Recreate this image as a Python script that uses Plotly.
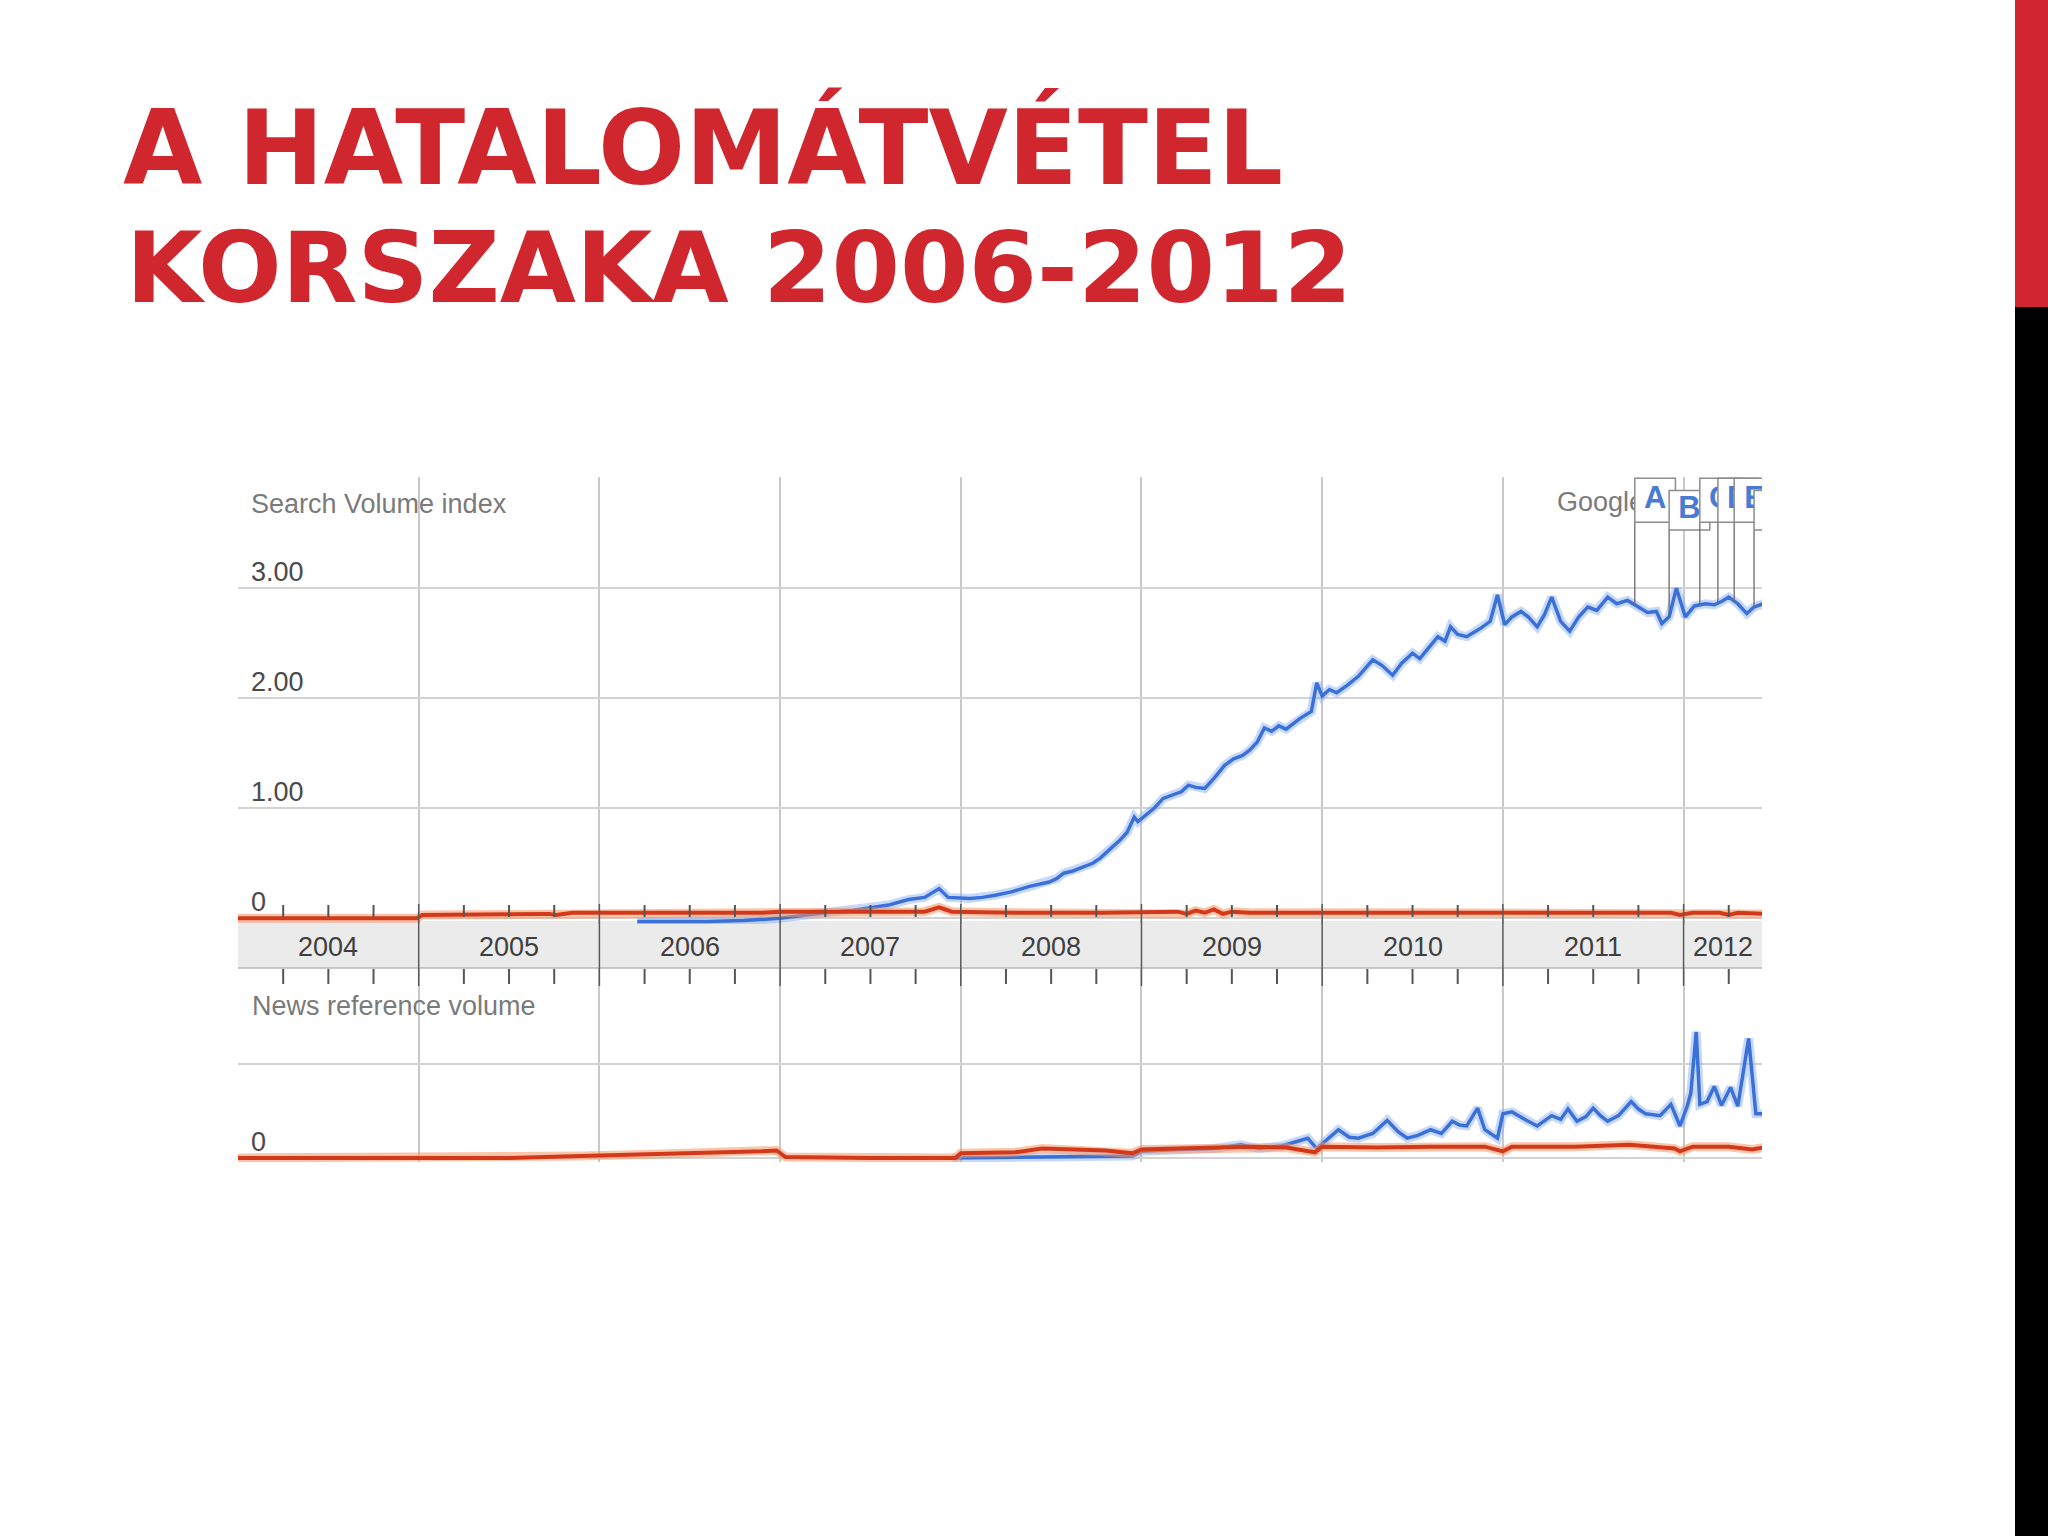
import numpy as np
import plotly.graph_objects as go

# ---------------- data ----------------
top_blue_x = [2006.21, 2006.40, 2006.60, 2006.80, 2007.00, 2007.10, 2007.25, 2007.40, 2007.49, 2007.60,
              2007.71, 2007.80, 2007.88, 2007.93, 2008.05, 2008.12, 2008.19, 2008.28, 2008.38, 2008.44,
              2008.49, 2008.53, 2008.57, 2008.62, 2008.68, 2008.73, 2008.77, 2008.82, 2008.85, 2008.88,
              2008.92, 2008.96, 2008.98, 2009.03, 2009.07, 2009.12, 2009.17, 2009.22, 2009.26, 2009.30,
              2009.35, 2009.40, 2009.46, 2009.51, 2009.56, 2009.60, 2009.64, 2009.68, 2009.72, 2009.76,
              2009.80, 2009.84, 2009.88, 2009.94, 2009.97, 2010.00, 2010.04, 2010.08, 2010.14, 2010.20,
              2010.24, 2010.28, 2010.33, 2010.39, 2010.44, 2010.50, 2010.54, 2010.58, 2010.64, 2010.68,
              2010.71, 2010.75, 2010.80, 2010.84, 2010.88, 2010.93, 2010.97, 2011.01, 2011.05, 2011.10,
              2011.14, 2011.19, 2011.23, 2011.27, 2011.32, 2011.37, 2011.42, 2011.47, 2011.52, 2011.58,
              2011.63, 2011.69, 2011.75, 2011.80, 2011.85, 2011.88, 2011.92, 2011.96, 2012.01, 2012.06,
              2012.12, 2012.17, 2012.21, 2012.25, 2012.30, 2012.35, 2012.39, 2012.44]
top_blue_y = [-0.03, -0.03, -0.03, -0.02, 0.00, 0.02, 0.05, 0.07, 0.09, 0.12,
              0.17, 0.19, 0.27, 0.19, 0.18, 0.19, 0.21, 0.24, 0.29, 0.31,
              0.33, 0.36, 0.41, 0.43, 0.47, 0.50, 0.545, 0.62, 0.66, 0.71,
              0.78, 0.92, 0.88, 0.95, 1.00, 1.09, 1.12, 1.15, 1.21, 1.19,
              1.18, 1.27, 1.39, 1.45, 1.48, 1.53, 1.60, 1.73, 1.70, 1.75,
              1.72, 1.77, 1.82, 1.88, 2.14, 2.02, 2.08, 2.05, 2.12, 2.20,
              2.28, 2.35, 2.30, 2.21, 2.32, 2.41, 2.36, 2.44, 2.56, 2.52,
              2.65, 2.58, 2.56, 2.60, 2.64, 2.70, 2.94, 2.67, 2.74, 2.79,
              2.74, 2.65, 2.76, 2.92, 2.70, 2.61, 2.74, 2.83, 2.80, 2.92,
              2.86, 2.89, 2.83, 2.78, 2.79, 2.68, 2.74, 3.00, 2.74, 2.84,
              2.86, 2.85, 2.88, 2.92, 2.86, 2.77, 2.83, 2.86]

top_red_x = [2004.00, 2004.50, 2004.99, 2005.02, 2005.40, 2005.72, 2005.76, 2005.80, 2005.85, 2006.30,
             2006.90, 2007.00, 2007.40, 2007.80, 2007.88, 2007.95, 2008.30, 2008.80, 2009.20, 2009.25,
             2009.30, 2009.35, 2009.40, 2009.45, 2009.50, 2009.60, 2010.50, 2011.50, 2011.93, 2011.98,
             2012.05, 2012.20, 2012.25, 2012.30, 2012.44]
top_red_y = [0.00, 0.00, 0.00, 0.03, 0.035, 0.04, 0.03, 0.04, 0.05, 0.05,
             0.05, 0.06, 0.06, 0.06, 0.10, 0.06, 0.05, 0.05, 0.06, 0.04,
             0.07, 0.05, 0.08, 0.04, 0.06, 0.05, 0.05, 0.05, 0.05, 0.03,
             0.05, 0.05, 0.03, 0.05, 0.04]

news_blue_x = [2007.95, 2008.40, 2008.70, 2008.95, 2009.00, 2009.20, 2009.40, 2009.55, 2009.65, 2009.78,
               2009.85, 2009.92, 2009.97, 2010.03, 2010.09, 2010.15, 2010.20, 2010.28, 2010.36, 2010.42,
               2010.47, 2010.53, 2010.60, 2010.66, 2010.72, 2010.76, 2010.80, 2010.86, 2010.90, 2010.97,
               2011.00, 2011.05, 2011.09, 2011.13, 2011.19, 2011.23, 2011.27, 2011.32, 2011.36, 2011.41,
               2011.46, 2011.50, 2011.54, 2011.58, 2011.64, 2011.71, 2011.75, 2011.79, 2011.87, 2011.93,
               2011.98, 2012.02, 2012.04, 2012.07, 2012.09, 2012.13, 2012.17, 2012.21, 2012.26, 2012.30,
               2012.36, 2012.40, 2012.44]
news_blue_y = [0.00, 0.01, 0.02, 0.02, 0.07, 0.09, 0.10, 0.14, 0.10, 0.13,
               0.17, 0.21, 0.10, 0.20, 0.30, 0.22, 0.21, 0.26, 0.40, 0.28,
               0.21, 0.24, 0.30, 0.26, 0.39, 0.35, 0.34, 0.53, 0.30, 0.21,
               0.47, 0.49, 0.44, 0.40, 0.34, 0.40, 0.45, 0.41, 0.52, 0.39,
               0.44, 0.53, 0.45, 0.39, 0.45, 0.60, 0.52, 0.47, 0.45, 0.57,
               0.34, 0.55, 0.69, 1.34, 0.57, 0.60, 0.76, 0.56, 0.75, 0.55,
               1.27, 0.47, 0.47]

news_red_x = [2004.00, 2005.50, 2005.90, 2006.30, 2006.60, 2006.90, 2006.98, 2007.03, 2007.50, 2007.97,
              2008.00, 2008.30, 2008.45, 2008.60, 2008.80, 2008.95, 2009.00, 2009.20, 2009.40, 2009.60,
              2009.80, 2009.96, 2010.00, 2010.30, 2010.60, 2010.90, 2011.00, 2011.05, 2011.40, 2011.70,
              2011.95, 2011.98, 2012.05, 2012.25, 2012.38, 2012.44]
news_red_y = [0.00, 0.00, 0.02, 0.04, 0.05, 0.07, 0.08, 0.01, 0.00, 0.00,
              0.05, 0.06, 0.10, 0.09, 0.08, 0.05, 0.09, 0.10, 0.11, 0.12,
              0.11, 0.06, 0.12, 0.11, 0.12, 0.12, 0.07, 0.12, 0.12, 0.14,
              0.10, 0.07, 0.12, 0.12, 0.09, 0.11]

years = [2004, 2005, 2006, 2007, 2008, 2009, 2010, 2011, 2012]
top_tick_vals = [0, 1, 2, 3]
top_tick_text = ["0", "1.00", "2.00", "3.00"]
news_tick_vals = [0, 1]
news_tick_text = ["0", ""]

flag_letters = ["A", "B", "C", "D", "E", "F"]
flag_dates = [2011.73, 2011.92, 2012.09, 2012.19, 2012.28, 2012.39]
flag_levels = [0, 1, 0, 0, 0, 1]

title_lines = ["A HATALOMÁTVÉTEL", "KORSZAKA 2006-2012"]

# ---------------- geometry / style ----------------
W, H = 2048, 1536
X0_PX, X1_PX = 238, 1762
X_RANGE = [2004.0, 2012.434]
TOP_PX = (477, 924)
TOP_RANGE = [-0.052, 4.012]
NEWS_PX = (968, 1162)
NEWS_RANGE = [-0.043, 2.02]
BAND_PX = (921, 968)

BLUE = "#3a70d8"
BLUE_HALO = "rgba(130,170,245,0.45)"
RED = "#d2391a"
RED_HALO = "rgba(248,150,100,0.55)"
TITLE_RED = "#d0272f"
TXT_GREY = "#7a7a7a"
LBL_FONT = "Liberation Sans, Arial, sans-serif"


def px(xp):
    return xp / W


def py(yp):
    return 1 - yp / H


def yr2px(yr):
    return X0_PX + (yr - X_RANGE[0]) * (X1_PX - X0_PX) / (X_RANGE[1] - X_RANGE[0])


def top_val2px(v):
    return TOP_PX[1] - (v - TOP_RANGE[0]) * (TOP_PX[1] - TOP_PX[0]) / (TOP_RANGE[1] - TOP_RANGE[0])


def news_val2px(v):
    return NEWS_PX[1] - (v - NEWS_RANGE[0]) * (NEWS_PX[1] - NEWS_PX[0]) / (NEWS_RANGE[1] - NEWS_RANGE[0])


fig = go.Figure()


def add_line(x, y, xa, ya, color, halo, width, halo_w):
    fig.add_trace(go.Scatter(x=x, y=y, xaxis=xa, yaxis=ya, mode="lines",
                             line=dict(color=halo, width=halo_w), hoverinfo="skip", showlegend=False))
    fig.add_trace(go.Scatter(x=x, y=y, xaxis=xa, yaxis=ya, mode="lines",
                             line=dict(color=color, width=width), hoverinfo="skip", showlegend=False))


# search volume chart
add_line(top_blue_x, top_blue_y, "x", "y", BLUE, BLUE_HALO, 3.5, 9)
add_line(top_red_x, top_red_y, "x", "y", RED, RED_HALO, 4, 9)
# news volume chart
add_line(news_blue_x, news_blue_y, "x2", "y2", BLUE, BLUE_HALO, 3.5, 9)
add_line(news_red_x, news_red_y, "x2", "y2", RED, RED_HALO, 4, 9)

# "Google" caption (partly hidden by the flags)
google_x = X_RANGE[0] + (1557 - X0_PX) / (X1_PX - X0_PX) * (X_RANGE[1] - X_RANGE[0])
google_y = TOP_RANGE[0] + (TOP_PX[1] - 504) / (TOP_PX[1] - TOP_PX[0]) * (TOP_RANGE[1] - TOP_RANGE[0])
fig.add_trace(go.Scatter(x=[google_x], y=[google_y], mode="text", text=["Google"],
                         textposition="middle right", xaxis="x", yaxis="y",
                         textfont=dict(family=LBL_FONT, size=27, color=TXT_GREY),
                         hoverinfo="skip", showlegend=False))

# news flags A..F
box_w = 0.225
levels = {0: (3.60, 4.00), 1: (3.53, 3.89)}
for letter, d, lv in zip(flag_letters, flag_dates, flag_levels):
    y0, y1 = levels[lv]
    curve_v = float(np.interp(d, top_blue_x, top_blue_y))
    fig.add_trace(go.Scatter(x=[d, d], y=[y0, curve_v], mode="lines", xaxis="x", yaxis="y",
                             line=dict(color="#6a6a6a", width=1.3), hoverinfo="skip", showlegend=False))
    fig.add_trace(go.Scatter(x=[d, d + box_w, d + box_w, d, d], y=[y0, y0, y1, y1, y0],
                             mode="lines", fill="toself", fillcolor="white", xaxis="x", yaxis="y",
                             line=dict(color="#8c8c8c", width=1.5), hoverinfo="skip", showlegend=False))
    fig.add_trace(go.Scatter(x=[d + box_w / 2], y=[(y0 + y1) / 2], mode="text", text=[letter],
                             textposition="middle center", xaxis="x", yaxis="y",
                             textfont=dict(family=LBL_FONT, size=31, color="#4a7bd4", weight=700),
                             hoverinfo="skip", showlegend=False))

shapes = []
# slide right bar
shapes.append(dict(type="rect", xref="paper", yref="paper", x0=px(2015), x1=1, y0=py(307), y1=1,
                   fillcolor="#d1262f", line=dict(width=0), layer="above"))
shapes.append(dict(type="rect", xref="paper", yref="paper", x0=px(2015), x1=1, y0=0, y1=py(307),
                   fillcolor="#000000", line=dict(width=0), layer="above"))
# date band
shapes.append(dict(type="rect", xref="paper", yref="paper", x0=px(X0_PX), x1=px(X1_PX),
                   y0=py(BAND_PX[1]), y1=py(BAND_PX[0]), fillcolor="#ebebeb", line=dict(width=0), layer="below"))
shapes.append(dict(type="line", xref="paper", yref="paper", x0=px(X0_PX), x1=px(X1_PX),
                   y0=py(BAND_PX[1]), y1=py(BAND_PX[1]), line=dict(color="#b8b8b8", width=1.5)))
# year separators and quarter ticks
for yv in years:
    xp = yr2px(yv)
    if yv > years[0]:
        shapes.append(dict(type="line", xref="paper", yref="paper", x0=px(xp), x1=px(xp),
                           y0=py(986), y1=py(904), line=dict(color="#5a5a5a", width=1.5)))
    for q in (0.25, 0.5, 0.75):
        if yv + q > X_RANGE[1]:
            continue
        xq = yr2px(yv + q)
        shapes.append(dict(type="line", xref="paper", yref="paper", x0=px(xq), x1=px(xq),
                           y0=py(917), y1=py(905), line=dict(color="#555555", width=2)))
        shapes.append(dict(type="line", xref="paper", yref="paper", x0=px(xq), x1=px(xq),
                           y0=py(984), y1=py(969), line=dict(color="#555555", width=2)))

annotations = []
# title
annotations.append(dict(text=title_lines[0], x=px(121), y=py(147), xref="paper", yref="paper",
                        xanchor="left", yanchor="middle", showarrow=False,
                        font=dict(family="DejaVu Sans", size=102.5, color=TITLE_RED, weight=700)))
annotations.append(dict(text=title_lines[1], x=px(124), y=py(268), xref="paper", yref="paper",
                        xanchor="left", yanchor="middle", showarrow=False,
                        font=dict(family="DejaVu Sans", size=98.5, color=TITLE_RED, weight=700)))
# year labels
for yv in years:
    c = (yv + min(yv + 1, X_RANGE[1])) / 2
    annotations.append(dict(text=str(yv), x=px(yr2px(c)), y=py(947), xref="paper", yref="paper",
                            xanchor="center", yanchor="middle", showarrow=False,
                            font=dict(family=LBL_FONT, size=27, color="#3f3f3f")))
# axis captions
annotations.append(dict(text="Search Volume index", x=px(249), y=py(504), xref="paper", yref="paper",
                        xanchor="left", yanchor="middle", showarrow=False,
                        font=dict(family=LBL_FONT, size=27, color=TXT_GREY)))
annotations.append(dict(text="News reference volume", x=px(250), y=py(1006), xref="paper", yref="paper",
                        xanchor="left", yanchor="middle", showarrow=False,
                        font=dict(family=LBL_FONT, size=27, color=TXT_GREY)))
for v, t in zip(top_tick_vals, top_tick_text):
    annotations.append(dict(text=t, x=px(249), y=py(top_val2px(v) - 16), xref="paper", yref="paper",
                            xanchor="left", yanchor="middle", showarrow=False,
                            font=dict(family=LBL_FONT, size=27, color="#4a4a4a")))
for v, t in zip(news_tick_vals, news_tick_text):
    if t:
        annotations.append(dict(text=t, x=px(249), y=py(news_val2px(v) - 16), xref="paper", yref="paper",
                                xanchor="left", yanchor="middle", showarrow=False,
                                font=dict(family=LBL_FONT, size=27, color="#4a4a4a")))

axis_common = dict(showline=False, zeroline=False, showticklabels=False, ticks="")
fig.update_layout(
    width=W, height=H, margin=dict(l=0, r=0, t=0, b=0),
    paper_bgcolor="#ffffff", plot_bgcolor="rgba(0,0,0,0)",
    showlegend=False,
    xaxis=dict(domain=[px(X0_PX), px(X1_PX)], range=X_RANGE, anchor="y",
               showgrid=True, gridcolor="#c9c9c9", gridwidth=1.5, tick0=2004, dtick=1, **axis_common),
    xaxis2=dict(domain=[px(X0_PX), px(X1_PX)], range=X_RANGE, anchor="y2", matches="x",
                showgrid=True, gridcolor="#c9c9c9", gridwidth=1.5, tick0=2004, dtick=1, **axis_common),
    yaxis=dict(domain=[py(TOP_PX[1]), py(TOP_PX[0])], range=TOP_RANGE, anchor="x",
               tickvals=top_tick_vals, showgrid=True, gridcolor="#d3d3d3", gridwidth=2, **axis_common),
    yaxis2=dict(domain=[py(NEWS_PX[1]), py(NEWS_PX[0])], range=NEWS_RANGE, anchor="x2",
                tickvals=news_tick_vals, showgrid=True, gridcolor="#d3d3d3", gridwidth=2, **axis_common),
    shapes=shapes,
    annotations=annotations,
)

fig.write_html("out.html", config={"displayModeBar": False},
               post_script="document.body.style.margin='0';")
